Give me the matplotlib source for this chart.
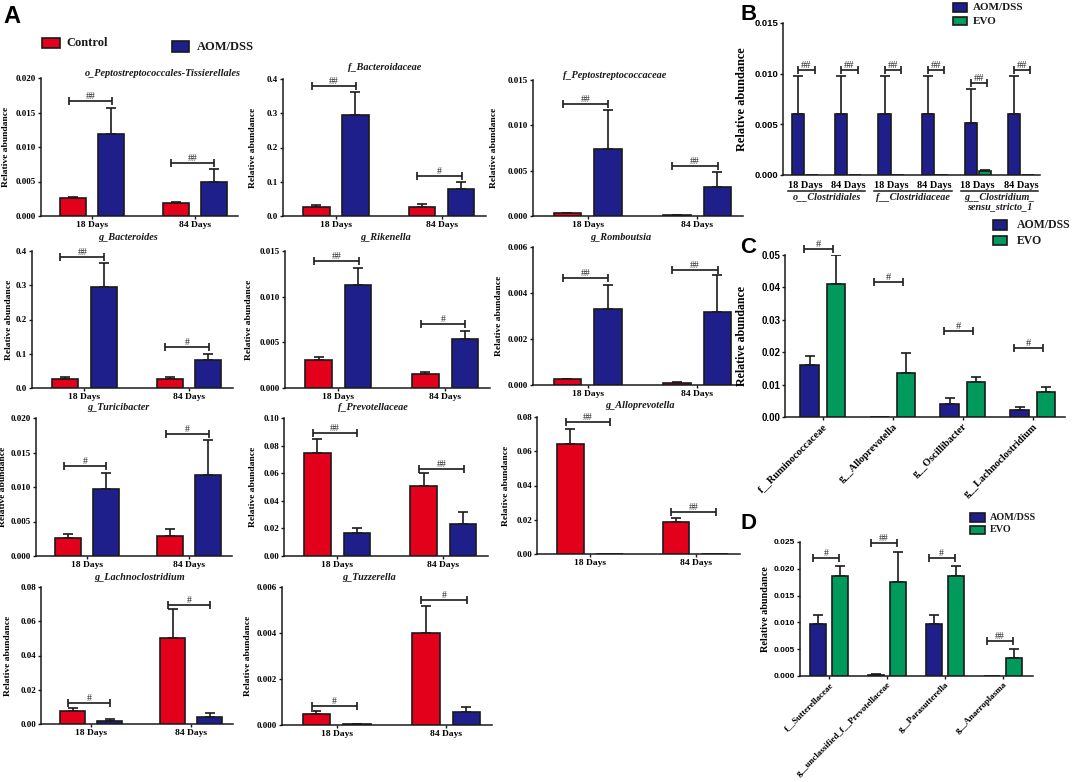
import matplotlib
matplotlib.use('Agg')
import matplotlib.pyplot as plt
from matplotlib.patches import Rectangle
from matplotlib import transforms
import numpy as np

W, H = 1072, 782
fig = plt.figure(figsize=(W / 100, H / 100), dpi=100)

SERIF = ['Liberation Serif', 'DejaVu Serif']
SANS = ['Liberation Sans', 'DejaVu Sans']
RED, BLUE, GREEN = '#E3001B', '#1F1F8C', '#009B5C'
INK = '#1a1a1a'

# ---------------- data: panel A ----------------
a_days = ['18 Days', '84 Days']
a_titles = ['o_Peptostreptococcales-Tissierellales', 'f_Bacteroidaceae', 'f_Peptostreptococcaceae',
            'g_Bacteroides', 'g_Rikenella', 'g_Romboutsia',
            'g_Turicibacter', 'f_Prevotellaceae', 'g_Alloprevotella',
            'g_Lachnoclostridium', 'g_Tuzzerella']
a_control = [[0.00257, 0.00194], [0.025, 0.025], [0.0003, 0.0001],
             [0.0253, 0.025], [0.00307, 0.00157], [0.00025, 0.00007],
             [0.00257, 0.00295], [0.0745, 0.0507], [0.0641, 0.0188],
             [0.0078, 0.0505], [0.00046, 0.00398]]
a_control_err = [[0.0002, 0.00016], [0.007, 0.009], [0.00003, 0.00002],
                 [0.007, 0.007], [0.0003, 0.00018], [0.00003, 0.00008],
                 [0.00067, 0.00092], [0.0102, 0.0095], [0.0091, 0.0024],
                 [0.0013, 0.0165], [0.00015, 0.00118]]
a_aom = [[0.0119, 0.0050], [0.294, 0.080], [0.0074, 0.0032],
         [0.295, 0.081], [0.0113, 0.00536], [0.00331, 0.00318],
         [0.00978, 0.01177], [0.0167, 0.0235], [0.0, 0.0],
         [0.0019, 0.0039], [0.00004, 0.00058]]
a_aom_err = [[0.0038, 0.0018], [0.069, 0.020], [0.0043, 0.0016],
             [0.070, 0.019], [0.0018, 0.00088], [0.00105, 0.00161],
             [0.0023, 0.005], [0.0034, 0.0085], [0.0, 0.0],
             [0.0008, 0.0025], [0.00002, 0.0002]]
a_sig = [['##', '##'], ['##', '#'], ['##', '##'],
         ['##', '#'], ['##', '#'], ['##', '##'],
         ['#', '#'], ['##', '##'], ['##', '##'],
         ['#', '#'], ['#', '#']]
a_sig_y = [[0.0166, 0.00765], [0.380, 0.117], [0.0123, 0.0055],
           [0.3825, 0.119], [0.0139, 0.00704], [0.00465, 0.00501],
           [0.0130, 0.0177], [0.089, 0.0633], [0.0771, 0.0247],
           [0.0122, 0.0695], [0.00084, 0.00542]]
a_ymax = [0.020, 0.4, 0.015, 0.4, 0.015, 0.006, 0.020, 0.10, 0.08, 0.08, 0.006]
a_ystep = [0.005, 0.1, 0.005, 0.1, 0.005, 0.002, 0.005, 0.02, 0.02, 0.02, 0.002]
a_ydec = [3, 1, 3, 1, 3, 3, 3, 2, 2, 2, 3]

# ---------------- data: panel B ----------------
b_days = ['18 Days', '84 Days', '18 Days', '84 Days', '18 Days', '84 Days']
b_groups = ['o__Clostridiales', 'f__Clostridiaceae', 'g__Clostridium_\nsensu_stricto_1']
b_aom = [0.0060, 0.0060, 0.0060, 0.0060, 0.0051, 0.0060]
b_aom_err = [0.0038, 0.0038, 0.0038, 0.0038, 0.0034, 0.0038]
b_evo = [0.0, 0.0, 0.0, 0.0, 0.0004, 0.0]
b_evo_err = [0.0, 0.0, 0.0, 0.0, 0.00012, 0.0]
b_sig = ['##', '##', '##', '##', '##', '##']
b_sig_y = [0.0104, 0.0104, 0.0104, 0.0104, 0.00905, 0.0104]

# ---------------- data: panel C ----------------
c_taxa = ['f__Ruminococcaceae', 'g__Alloprevotella', 'g__Oscillibacter', 'g__Lachnoclostridium']
c_aom = [0.0160, 0.0, 0.0040, 0.0021]
c_aom_err = [0.0029, 0.0, 0.0019, 0.0010]
c_evo = [0.0410, 0.0137, 0.0108, 0.0076]
c_evo_err = [0.0090, 0.0059, 0.0017, 0.0018]
c_sig = ['#', '#', '#', '#']
c_sig_y = [0.0520, 0.0417, 0.0266, 0.0212]

# ---------------- data: panel D ----------------
d_taxa = ['f__Sutterellaceae', 'g__unclassified_f__Prevotellaceae', 'g__Parasutterella', 'g__Anaeroplasma']
d_aom = [0.0097, 0.0002, 0.0097, 0.00005]
d_aom_err = [0.0017, 0.0001, 0.0017, 0.0]
d_evo = [0.0187, 0.0176, 0.0187, 0.0033]
d_evo_err = [0.0018, 0.0056, 0.0018, 0.0018]
d_sig = ['#', '##', '#', '##']
d_sig_y = [0.0220, 0.0249, 0.0220, 0.0065]

# ---------------- layout (pixels) ----------------
a_boxes = [(41, 238, 78, 216), (283, 486, 79, 216), (533, 743, 80, 216),
           (32, 233, 251, 388), (285, 490, 251, 388), (533, 743, 247, 385),
           (36, 232, 418, 556), (284, 488, 418, 556), (537, 740, 417, 554),
           (41, 233, 587, 724), (282, 492, 587, 725)]
a_ylabel_x = [10, 257, 498, 13, 253, 503, 7, 257, 510, 12, 252]
a_title_pos = [(163, 73), (385, 67), (615, 75), (128, 237), (386, 238), (621, 238),
               (118, 408), (373, 408), (640, 405), (140, 577), (369, 577)]


def fx(px):
    return px / W


def fy(py):
    return 1 - py / H


def px_axes(l, r, t, b):
    return fig.add_axes([l / W, 1 - b / H, (r - l) / W, (b - t) / H])


def style_axes(ax, yfam, ysize, xfam, xsize):
    for s in ['top', 'right']:
        ax.spines[s].set_visible(False)
    for s in ['left', 'bottom']:
        ax.spines[s].set_linewidth(1.1)
        ax.spines[s].set_color(INK)
    ax.tick_params(axis='both', direction='out', length=2.5, width=1.0, color=INK, pad=1.0)
    for lab in ax.get_yticklabels():
        lab.set_fontfamily(yfam)
        lab.set_fontweight('bold')
        lab.set_fontsize(ysize)
    for lab in ax.get_xticklabels():
        lab.set_fontfamily(xfam)
        lab.set_fontweight('bold')
        lab.set_fontsize(xsize)


def set_yticks(ax, ymax, step, dec):
    ticks = np.round(np.arange(0, ymax + step / 2, step), 6)
    ax.set_ylim(0, ymax)
    ax.set_yticks(ticks, [f'{t:.{dec}f}' for t in ticks])


def bars_with_err(ax, xs, vals, errs, color, width):
    ax.bar(xs, vals, width=width, color=color, edgecolor=INK, linewidth=1.2, zorder=3)
    xs = np.asarray(xs, dtype=float)
    vals = np.asarray(vals, dtype=float)
    errs = np.asarray(errs, dtype=float)
    m = errs > 0
    if m.any():
        ax.errorbar(xs[m], vals[m], yerr=[np.zeros(m.sum()), errs[m]], fmt='none',
                    ecolor=INK, elinewidth=1.2, capsize=3.5, capthick=1.2, zorder=2)


def bracket(ax, x0, x1, y, label, fs):
    ax.plot([x0, x1], [y, y], color=INK, lw=1.2, marker='|', ms=6, mew=1.2,
            solid_capstyle='butt', clip_on=False, zorder=4)
    ax.text((x0 + x1) / 2, y, label, ha='center', va='bottom', fontsize=fs,
            family=SERIF, color='#2a2a2a', clip_on=False)


def ylabel(ax, text, px_x, box, size):
    l, r = box[0], box[1]
    ax.set_ylabel(text, fontfamily=SERIF, fontweight='bold', fontsize=size)
    ax.yaxis.set_label_coords((px_x - l) / (r - l), 0.5)


def legend_square(x0, y0, x1, y1, color):
    fig.add_artist(Rectangle((fx(x0), fy(y1)), (x1 - x0) / W, (y1 - y0) / H,
                             transform=fig.transFigure, facecolor=color,
                             edgecolor=INK, linewidth=1.2))


def legend_text(x, y, text, size):
    fig.text(fx(x), fy(y), text, ha='left', va='center', fontsize=size,
             family=SERIF, fontweight='bold', color=INK)


# ================= Panel A =================
A_OFF, A_W = 0.185, 0.25
xg = np.arange(len(a_days))
for i, box in enumerate(a_boxes):
    ax = px_axes(*box)
    bars_with_err(ax, xg - A_OFF, a_control[i], a_control_err[i], RED, A_W)
    bars_with_err(ax, xg + A_OFF, a_aom[i], a_aom_err[i], BLUE, A_W)
    ax.set_xlim(-0.5, 1.42)
    ax.set_xticks(xg, a_days)
    set_yticks(ax, a_ymax[i], a_ystep[i], a_ydec[i])
    for j in range(len(a_days)):
        bracket(ax, xg[j] - 0.23, xg[j] + 0.19, a_sig_y[i][j], a_sig[i][j], 7)
    style_axes(ax, SERIF, 6.5, SERIF, 6.8)
    ylabel(ax, 'Relative abundance', a_ylabel_x[i], box, 6.8)
    tx, ty = a_title_pos[i]
    fig.text(fx(tx), fy(ty), a_titles[i], ha='center', va='center', fontsize=7.4,
             family=SERIF, fontweight='bold', fontstyle='italic', color=INK)

fig.text(fx(3), fy(5), 'A', ha='left', va='top', fontsize=17, family=SANS, fontweight='bold')
legend_square(42, 38, 60, 48, RED)
legend_text(66, 43, 'Control', 9)
legend_square(172, 41, 189, 52, BLUE)
legend_text(197, 47, 'AOM/DSS', 9)

# ================= Panel B =================
b_box = (783, 1040, 23, 175)
axb = px_axes(*b_box)
xb = np.arange(len(b_days))
B_OFF, B_W = 0.16, 0.28
bars_with_err(axb, xb - B_OFF, b_aom, b_aom_err, BLUE, B_W)
bars_with_err(axb, xb + B_OFF, b_evo, b_evo_err, GREEN, B_W)
axb.set_xlim(-0.51, 5.44)
axb.set_xticks(xb, b_days)
set_yticks(axb, 0.015, 0.005, 3)
for j in range(len(b_days)):
    bracket(axb, xb[j] - 0.16, xb[j] + 0.22, b_sig_y[j], b_sig[j], 7.5)
style_axes(axb, SANS, 6.8, SERIF, 7.4)
axb.tick_params(axis='x', length=0, pad=4)
ylabel(axb, 'Relative abundance', 748, b_box, 8.8)
trans_b = transforms.blended_transform_factory(axb.transData, fig.transFigure)
for k, g in enumerate(b_groups):
    x0, x1 = 2 * k - 0.4, 2 * k + 1 + 0.4
    axb.plot([x0, x1], [fy(191), fy(191)], color=INK, lw=1.1, transform=trans_b, clip_on=False)
    axb.text(2 * k + 0.5, fy(192.5), g, transform=trans_b, ha='center', va='top',
             fontsize=7.3, family=SERIF, fontweight='bold', fontstyle='italic',
             color=INK, linespacing=1.05)
fig.text(fx(741), fy(4), 'B', ha='left', va='top', fontsize=16, family=SANS, fontweight='bold')
legend_square(953, 3, 967, 12, BLUE)
legend_text(973, 7.5, 'AOM/DSS', 8)
legend_square(953, 17, 967, 25, GREEN)
legend_text(973, 21, 'EVO', 8)

# ================= Panel C =================
c_box = (785, 1065, 255, 417)
axc = px_axes(*c_box)
xc = np.arange(len(c_taxa))
C_OFF, C_W = 0.19, 0.26
bars_with_err(axc, xc - C_OFF, c_aom, c_aom_err, BLUE, C_W)
bars_with_err(axc, xc + C_OFF, c_evo, c_evo_err, GREEN, C_W)
axc.set_xlim(-0.54, 3.46)
axc.set_xticks(xc, c_taxa, rotation=45, ha='right', rotation_mode='anchor')
set_yticks(axc, 0.05, 0.01, 2)
for j in range(len(c_taxa)):
    bracket(axc, xc[j] - 0.27, xc[j] + 0.14, c_sig_y[j], c_sig[j], 7.5)
style_axes(axc, SANS, 7, SERIF, 7.5)
ylabel(axc, 'Relative abundance', 748, c_box, 8.6)
fig.text(fx(740), fy(237), 'C', ha='left', va='top', fontsize=16, family=SANS, fontweight='bold')
legend_square(993, 220, 1007, 230, BLUE)
legend_text(1017, 225, 'AOM/DSS', 8.5)
legend_square(993, 236, 1007, 245, GREEN)
legend_text(1017, 240.5, 'EVO', 8.5)

# ================= Panel D =================
d_box = (800, 1033, 542, 676)
axd = px_axes(*d_box)
xd = np.arange(len(d_taxa))
D_OFF, D_W = 0.19, 0.27
bars_with_err(axd, xd - D_OFF, d_aom, d_aom_err, BLUE, D_W)
bars_with_err(axd, xd + D_OFF, d_evo, d_evo_err, GREEN, D_W)
axd.set_xlim(-0.5, 3.52)
axd.set_xticks(xd, d_taxa, rotation=45, ha='right', rotation_mode='anchor')
set_yticks(axd, 0.025, 0.005, 3)
for j in range(len(d_taxa)):
    bracket(axd, xd[j] - 0.28, xd[j] + 0.17, d_sig_y[j], d_sig[j], 7)
style_axes(axd, SANS, 6, SERIF, 6.5)
ylabel(axd, 'Relative abundance', 770, d_box, 7.3)
fig.text(fx(740), fy(513), 'D', ha='left', va='top', fontsize=16, family=SANS, fontweight='bold')
legend_square(970, 513, 985, 522, BLUE)
legend_text(990, 517.5, 'AOM/DSS', 7.3)
legend_square(970, 526, 985, 534, GREEN)
legend_text(990, 530, 'EVO', 7.3)

fig.savefig('out.png', dpi=100, facecolor='white')
